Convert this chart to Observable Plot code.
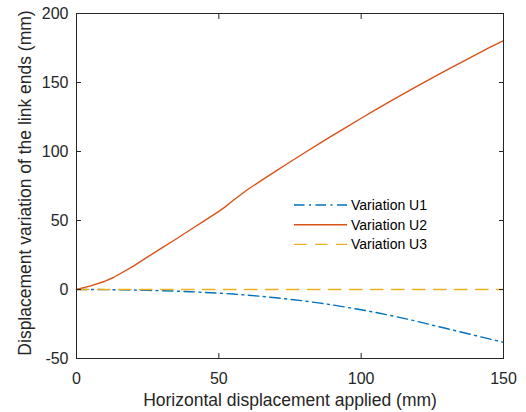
<!DOCTYPE html>
<html>
<head>
<meta charset="utf-8">
<script src="https://cdn.jsdelivr.net/npm/d3@7"></script>
<script src="https://cdn.jsdelivr.net/npm/@observablehq/plot@0.6"></script>
<style>
  html, body { margin: 0; padding: 0; background: #fff; }
  #chart { width: 526px; height: 412px; }
</style>
</head>
<body>
<div id="chart"></div>
<script>
// ---- data ----
const xValues = [0,5,10,13,20,25,30,35,40,45,50,52,55,60,65,70,75,80,85,90,95,100,105,110,115,120,125,130,135,140,145,150];
const u1 = [0,0,-0.1,-0.15,-0.4,-0.6,-0.9,-1.2,-1.6,-2.1,-2.6,-2.9,-3.3,-4.1,-5,-6,-7.1,-8.3,-9.7,-11.2,-12.9,-14.7,-16.6,-18.7,-20.9,-23.3,-25.8,-28.3,-30.8,-33.3,-35.8,-38.2];
const u2 = [0,2.6,6,8.7,16.9,23.6,30.1,36.6,43.3,49.9,56.6,59.5,64.5,72.3,79.1,85.8,92.4,98.9,105.4,111.7,117.9,124.1,130.1,136.1,141.9,147.7,153.4,159,164.4,169.8,175.2,180.4];
const u3 = xValues.map(() => 0);
const seriesNames = ["Variation U1", "Variation U2", "Variation U3"];
const seriesColors = ["#0072BD", "#D95319", "#EDB120"];
const seriesDash = ["10.5,4.5,2,4.5", null, "12.5,8.5"];
const xTicks = [0, 50, 100, 150];
const yTicks = [-50, 0, 50, 100, 150, 200];
const xLabel = "Horizontal displacement applied (mm)";
const yLabel = "Displacement variation of the link ends (mm)";

const series = [u1, u2, u3];
const table = series.flatMap((vals, s) => xValues.map((x, i) => ({x, y: vals[i], s})));

const font = "'Liberation Sans', Arial, Helvetica, sans-serif";
const ink = "#262626";

const lineMarks = series.map((vals, s) =>
  Plot.line(table.filter(d => d.s === s), {
    x: "x", y: "y",
    stroke: seriesColors[s],
    strokeWidth: 1.4,
    strokeDasharray: seriesDash[s] || undefined
  })
);

const chart = Plot.plot({
  width: 526, height: 412,
  marginLeft: 76, marginRight: 23, marginTop: 13, marginBottom: 54,
  style: {fontFamily: font, fontSize: "16px", color: ink, background: "#fff", overflow: "visible"},
  x: {domain: [0, 150]},
  y: {domain: [-50, 200]},
  marks: [
    ...lineMarks,
    Plot.frame({stroke: ink, strokeWidth: 1}),
    Plot.axisX(xTicks, {anchor: "bottom", tickSize: -5, tickPadding: 19, label: null, tickFormat: d => String(d), fontSize: 16}),
    Plot.axisX(xTicks, {anchor: "top", tickSize: -5, label: null, tickFormat: () => ""}),
    Plot.axisY(yTicks, {anchor: "left", tickSize: -5, tickPadding: 13, label: null, tickFormat: d => String(d), fontSize: 16}),
    Plot.axisY(yTicks, {anchor: "right", tickSize: -5, label: null, tickFormat: () => ""}),
    Plot.text([xLabel], {text: d => d, frameAnchor: "bottom", lineAnchor: "middle", textAnchor: "middle", dy: 42, fontSize: 17.5, fill: ink}),
    Plot.text([yLabel], {text: d => d, frameAnchor: "left", lineAnchor: "middle", textAnchor: "middle", dx: -51, dy: -3, rotate: -90, fontSize: 17.5, fill: ink})
  ]
});

// legend (no box), placed inside the plot area
const svg = d3.select(chart);
const lg = svg.append("g")
  .attr("font-family", font).attr("font-size", 14).attr("fill", "#000")
  .attr("text-anchor", "start");
seriesNames.forEach((name, i) => {
  const yy = 205 + i * 19.7;
  lg.append("line")
    .attr("x1", 294).attr("x2", 347).attr("y1", yy).attr("y2", yy)
    .attr("stroke", seriesColors[i]).attr("stroke-width", 1.4)
    .attr("stroke-dasharray", seriesDash[i] || null);
  lg.append("text").attr("x", 351).attr("y", yy).attr("dy", "0.36em").text(name);
});

document.getElementById("chart").appendChild(chart);
</script>
</body>
</html>
